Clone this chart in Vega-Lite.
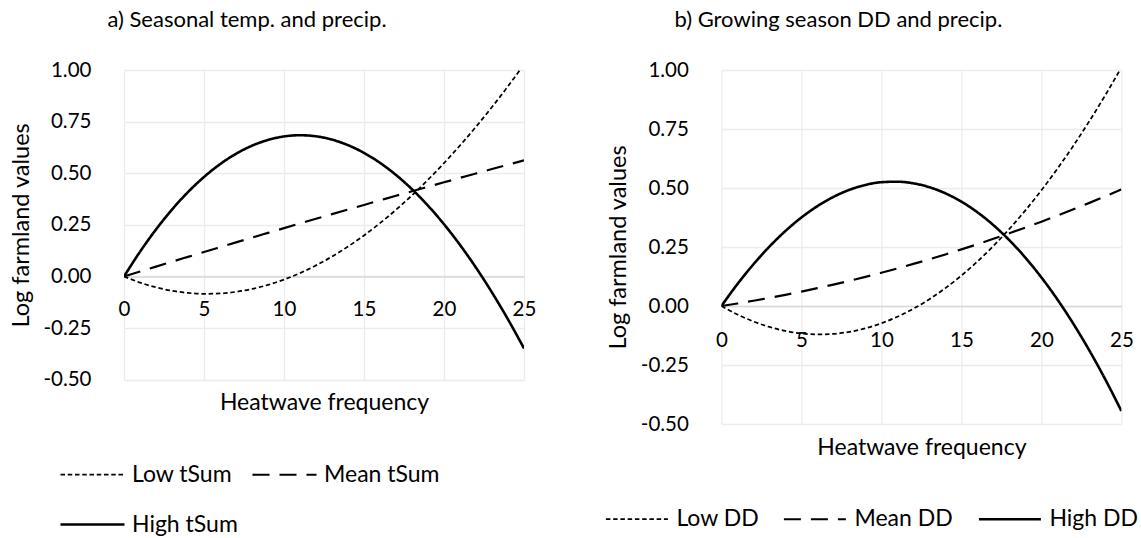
{
  "$schema": "https://vega.github.io/schema/vega-lite/v6.json",
  "background": "white",
  "padding": {"left": 8, "top": 9, "right": 0, "bottom": 0},
  "bounds": "flush",
  "spacing": 197.4,
  "resolve": {
    "scale": {"strokeDash": "independent", "strokeWidth": "independent"},
    "legend": {"strokeDash": "independent", "strokeWidth": "independent"}
  },
  "config": {
    "font": "Lato",
    "view": {"stroke": null},
    "axis": {"labelFont": "Lato", "titleFont": "Lato", "labelColor": "#000", "titleColor": "#000", "titleFontWeight": "normal", "ticks": false, "tickSize": 0, "gridColor": "#ececec", "gridWidth": 1.3},
    "legend": {"labelFont": "Lato", "labelColor": "#000"},
    "title": {"font": "Lato", "color": "#000", "fontWeight": "normal"}
  },
  "datasets": {
    "a": [
      {"s": "Low tSum", "x": 0, "v": 0}, {"s": "Low tSum", "x": 1, "v": -0.0295}, {"s": "Low tSum", "x": 2, "v": -0.0526}, {"s": "Low tSum", "x": 3, "v": -0.0693}, {"s": "Low tSum", "x": 4, "v": -0.0798}, {"s": "Low tSum", "x": 5, "v": -0.0841}, {"s": "Low tSum", "x": 6, "v": -0.0823}, {"s": "Low tSum", "x": 7, "v": -0.0744}, {"s": "Low tSum", "x": 8, "v": -0.0605}, {"s": "Low tSum", "x": 9, "v": -0.0407}, {"s": "Low tSum", "x": 10, "v": -0.015}, {"s": "Low tSum", "x": 11, "v": 0.0164}, {"s": "Low tSum", "x": 12, "v": 0.0536}, {"s": "Low tSum", "x": 13, "v": 0.0965}, {"s": "Low tSum", "x": 14, "v": 0.1449}, {"s": "Low tSum", "x": 15, "v": 0.1988}, {"s": "Low tSum", "x": 16, "v": 0.2582}, {"s": "Low tSum", "x": 17, "v": 0.323}, {"s": "Low tSum", "x": 18, "v": 0.3931}, {"s": "Low tSum", "x": 19, "v": 0.4684}, {"s": "Low tSum", "x": 20, "v": 0.5489}, {"s": "Low tSum", "x": 21, "v": 0.6345}, {"s": "Low tSum", "x": 22, "v": 0.7252}, {"s": "Low tSum", "x": 23, "v": 0.8208}, {"s": "Low tSum", "x": 24, "v": 0.9214}, {"s": "Low tSum", "x": 25, "v": 1.0268},
      {"s": "Mean tSum", "x": 0, "v": 0}, {"s": "Mean tSum", "x": 1, "v": 0.0239}, {"s": "Mean tSum", "x": 2, "v": 0.0478}, {"s": "Mean tSum", "x": 3, "v": 0.0715}, {"s": "Mean tSum", "x": 4, "v": 0.095}, {"s": "Mean tSum", "x": 5, "v": 0.1185}, {"s": "Mean tSum", "x": 6, "v": 0.1418}, {"s": "Mean tSum", "x": 7, "v": 0.1651}, {"s": "Mean tSum", "x": 8, "v": 0.1882}, {"s": "Mean tSum", "x": 9, "v": 0.2111}, {"s": "Mean tSum", "x": 10, "v": 0.234}, {"s": "Mean tSum", "x": 11, "v": 0.2567}, {"s": "Mean tSum", "x": 12, "v": 0.2794}, {"s": "Mean tSum", "x": 13, "v": 0.3019}, {"s": "Mean tSum", "x": 14, "v": 0.3242}, {"s": "Mean tSum", "x": 15, "v": 0.3465}, {"s": "Mean tSum", "x": 16, "v": 0.3686}, {"s": "Mean tSum", "x": 17, "v": 0.3907}, {"s": "Mean tSum", "x": 18, "v": 0.4126}, {"s": "Mean tSum", "x": 19, "v": 0.4343}, {"s": "Mean tSum", "x": 20, "v": 0.456}, {"s": "Mean tSum", "x": 21, "v": 0.4775}, {"s": "Mean tSum", "x": 22, "v": 0.499}, {"s": "Mean tSum", "x": 23, "v": 0.5203}, {"s": "Mean tSum", "x": 24, "v": 0.5414}, {"s": "Mean tSum", "x": 25, "v": 0.5625},
      {"s": "High tSum", "x": 0, "v": 0}, {"s": "High tSum", "x": 1, "v": 0.1197}, {"s": "High tSum", "x": 2, "v": 0.2277}, {"s": "High tSum", "x": 3, "v": 0.3241}, {"s": "High tSum", "x": 4, "v": 0.4088}, {"s": "High tSum", "x": 5, "v": 0.482}, {"s": "High tSum", "x": 6, "v": 0.5438}, {"s": "High tSum", "x": 7, "v": 0.5942}, {"s": "High tSum", "x": 8, "v": 0.6333}, {"s": "High tSum", "x": 9, "v": 0.6613}, {"s": "High tSum", "x": 10, "v": 0.6782}, {"s": "High tSum", "x": 11, "v": 0.684}, {"s": "High tSum", "x": 12, "v": 0.6788}, {"s": "High tSum", "x": 13, "v": 0.6628}, {"s": "High tSum", "x": 14, "v": 0.636}, {"s": "High tSum", "x": 15, "v": 0.5985}, {"s": "High tSum", "x": 16, "v": 0.5503}, {"s": "High tSum", "x": 17, "v": 0.4916}, {"s": "High tSum", "x": 18, "v": 0.4225}, {"s": "High tSum", "x": 19, "v": 0.3429}, {"s": "High tSum", "x": 20, "v": 0.253}, {"s": "High tSum", "x": 21, "v": 0.1529}, {"s": "High tSum", "x": 22, "v": 0.0426}, {"s": "High tSum", "x": 23, "v": -0.0777}, {"s": "High tSum", "x": 24, "v": -0.208}, {"s": "High tSum", "x": 25, "v": -0.3483}
    ],
    "b": [
      {"s": "Low DD", "x": 0, "v": 0}, {"s": "Low DD", "x": 1, "v": -0.036}, {"s": "Low DD", "x": 2, "v": -0.0656}, {"s": "Low DD", "x": 3, "v": -0.0888}, {"s": "Low DD", "x": 4, "v": -0.1057}, {"s": "Low DD", "x": 5, "v": -0.1162}, {"s": "Low DD", "x": 6, "v": -0.1204}, {"s": "Low DD", "x": 7, "v": -0.1181}, {"s": "Low DD", "x": 8, "v": -0.1095}, {"s": "Low DD", "x": 9, "v": -0.0946}, {"s": "Low DD", "x": 10, "v": -0.0732}, {"s": "Low DD", "x": 11, "v": -0.0455}, {"s": "Low DD", "x": 12, "v": -0.0115}, {"s": "Low DD", "x": 13, "v": 0.029}, {"s": "Low DD", "x": 14, "v": 0.0758}, {"s": "Low DD", "x": 15, "v": 0.129}, {"s": "Low DD", "x": 16, "v": 0.1885}, {"s": "Low DD", "x": 17, "v": 0.2544}, {"s": "Low DD", "x": 18, "v": 0.3267}, {"s": "Low DD", "x": 19, "v": 0.4053}, {"s": "Low DD", "x": 20, "v": 0.4903}, {"s": "Low DD", "x": 21, "v": 0.5817}, {"s": "Low DD", "x": 22, "v": 0.6795}, {"s": "Low DD", "x": 23, "v": 0.7836}, {"s": "Low DD", "x": 24, "v": 0.8941}, {"s": "Low DD", "x": 25, "v": 1.0109},
      {"s": "Mean DD", "x": 0, "v": 0}, {"s": "Mean DD", "x": 1, "v": 0.0107}, {"s": "Mean DD", "x": 2, "v": 0.0222}, {"s": "Mean DD", "x": 3, "v": 0.0344}, {"s": "Mean DD", "x": 4, "v": 0.0474}, {"s": "Mean DD", "x": 5, "v": 0.0611}, {"s": "Mean DD", "x": 6, "v": 0.0756}, {"s": "Mean DD", "x": 7, "v": 0.0908}, {"s": "Mean DD", "x": 8, "v": 0.1068}, {"s": "Mean DD", "x": 9, "v": 0.1235}, {"s": "Mean DD", "x": 10, "v": 0.141}, {"s": "Mean DD", "x": 11, "v": 0.1593}, {"s": "Mean DD", "x": 12, "v": 0.1783}, {"s": "Mean DD", "x": 13, "v": 0.198}, {"s": "Mean DD", "x": 14, "v": 0.2185}, {"s": "Mean DD", "x": 15, "v": 0.2398}, {"s": "Mean DD", "x": 16, "v": 0.2618}, {"s": "Mean DD", "x": 17, "v": 0.2846}, {"s": "Mean DD", "x": 18, "v": 0.3081}, {"s": "Mean DD", "x": 19, "v": 0.3324}, {"s": "Mean DD", "x": 20, "v": 0.3574}, {"s": "Mean DD", "x": 21, "v": 0.3832}, {"s": "Mean DD", "x": 22, "v": 0.4097}, {"s": "Mean DD", "x": 23, "v": 0.437}, {"s": "Mean DD", "x": 24, "v": 0.4651}, {"s": "Mean DD", "x": 25, "v": 0.4939},
      {"s": "High DD", "x": 0, "v": 0}, {"s": "High DD", "x": 1, "v": 0.0927}, {"s": "High DD", "x": 2, "v": 0.1766}, {"s": "High DD", "x": 3, "v": 0.2517}, {"s": "High DD", "x": 4, "v": 0.3178}, {"s": "High DD", "x": 5, "v": 0.375}, {"s": "High DD", "x": 6, "v": 0.4232}, {"s": "High DD", "x": 7, "v": 0.4622}, {"s": "High DD", "x": 8, "v": 0.4922}, {"s": "High DD", "x": 9, "v": 0.513}, {"s": "High DD", "x": 10, "v": 0.5246}, {"s": "High DD", "x": 11, "v": 0.5268}, {"s": "High DD", "x": 12, "v": 0.5198}, {"s": "High DD", "x": 13, "v": 0.5033}, {"s": "High DD", "x": 14, "v": 0.4775}, {"s": "High DD", "x": 15, "v": 0.4421}, {"s": "High DD", "x": 16, "v": 0.3972}, {"s": "High DD", "x": 17, "v": 0.3427}, {"s": "High DD", "x": 18, "v": 0.2785}, {"s": "High DD", "x": 19, "v": 0.2047}, {"s": "High DD", "x": 20, "v": 0.1211}, {"s": "High DD", "x": 21, "v": 0.0277}, {"s": "High DD", "x": 22, "v": -0.0756}, {"s": "High DD", "x": 23, "v": -0.1888}, {"s": "High DD", "x": 24, "v": -0.3119}, {"s": "High DD", "x": 25, "v": -0.4451}
    ]
  },
  "hconcat": [
    {
      "width": 400,
      "height": 309.7,
      "data": {"name": "a"},
      "title": {"text": "a) Seasonal temp. and precip.", "dx": -77, "offset": 11, "baseline": "alphabetic", "fontSize": 22, "anchor": "middle", "frame": "group"},
      "mark": {"type": "line", "color": "#000", "clip": true, "interpolate": "monotone"},
      "encoding": {
        "x": {"field": "x", "type": "quantitative", "scale": {"domain": [0, 25], "nice": false, "zero": false},
          "axis": {"values": [0, 5, 10, 15, 20, 25], "offset": -103.3, "domainColor": "#d9d9d9", "domainWidth": 1.5, "labelFontSize": 20.5, "labelPadding": 23, "labelFlush": false, "labelOverlap": false, "title": "Heatwave frequency", "titleFontSize": 23, "titleY": 133, "titleBaseline": "alphabetic"}},
        "y": {"field": "v", "type": "quantitative", "scale": {"domain": [-0.5, 1], "nice": false, "zero": false},
          "axis": {"values": [-0.5, -0.25, 0, 0.25, 0.5, 0.75, 1], "format": ".2f", "labelExpr": "replace(datum.label, '−', '-')", "domain": false, "labelFontSize": 20.5, "labelPadding": 33, "title": "Log farmland values", "titleFontSize": 23.5, "titleX": -103, "titleY": 154.85, "titleBaseline": "middle", "titleAngle": -90}},
        "strokeDash": {"field": "s", "type": "nominal", "scale": {"domain": ["Low tSum", "Mean tSum", "High tSum"], "range": [[4.5, 2.75], [17, 10], [1, 0]]},
          "legend": {"title": null, "orient": "none", "direction": "horizontal", "legendX": -65, "legendY": 371, "columns": 2, "symbolType": "stroke", "symbolSize": 4096, "symbolStrokeColor": "#000", "labelFontSize": 23, "labelOffset": 6, "columnPadding": 10, "rowPadding": 4, "labelLimit": 300}},
        "strokeWidth": {"field": "s", "type": "nominal", "scale": {"domain": ["Low tSum", "Mean tSum", "High tSum"], "range": [1.75, 2.6, 3.75]},
          "legend": {"title": null, "orient": "none", "direction": "horizontal", "legendX": -65, "legendY": 371, "columns": 2, "symbolType": "stroke", "symbolSize": 4096, "symbolStrokeColor": "#000", "labelFontSize": 23, "labelOffset": 6, "columnPadding": 10, "rowPadding": 4, "labelLimit": 300}}
      }
    },
    {
      "width": 400,
      "height": 354,
      "data": {"name": "b"},
      "title": {"text": "b) Growing season DD and precip.", "dx": -83, "offset": 11, "baseline": "alphabetic", "fontSize": 22, "anchor": "middle", "frame": "group"},
      "mark": {"type": "line", "color": "#000", "clip": true, "interpolate": "monotone"},
      "encoding": {
        "x": {"field": "x", "type": "quantitative", "scale": {"domain": [0, 25], "nice": false, "zero": false},
          "axis": {"values": [0, 5, 10, 15, 20, 25], "offset": -118, "domainColor": "#d9d9d9", "domainWidth": 1.5, "labelFontSize": 20.5, "labelPadding": 24, "labelFlush": false, "labelOverlap": false, "title": "Heatwave frequency", "titleFontSize": 23, "titleY": 148, "titleBaseline": "alphabetic"}},
        "y": {"field": "v", "type": "quantitative", "scale": {"domain": [-0.5, 1], "nice": false, "zero": false},
          "axis": {"values": [-0.5, -0.25, 0, 0.25, 0.5, 0.75, 1], "format": ".2f", "labelExpr": "replace(datum.label, '−', '-')", "domain": false, "labelFontSize": 20.5, "labelPadding": 33, "title": "Log farmland values", "titleFontSize": 23.5, "titleX": -103, "titleY": 177, "titleBaseline": "middle", "titleAngle": -90}},
        "strokeDash": {"field": "s", "type": "nominal", "scale": {"domain": ["Low DD", "Mean DD", "High DD"], "range": [[4.5, 2.75], [17, 10], [1, 0]]},
          "legend": {"title": null, "orient": "none", "direction": "horizontal", "legendX": -117, "legendY": 416.5, "columns": 3, "symbolType": "stroke", "symbolSize": 3844, "symbolStrokeColor": "#000", "labelFontSize": 23, "labelOffset": 7, "columnPadding": 20, "labelLimit": 300}},
        "strokeWidth": {"field": "s", "type": "nominal", "scale": {"domain": ["Low DD", "Mean DD", "High DD"], "range": [1.75, 2.6, 3.75]},
          "legend": {"title": null, "orient": "none", "direction": "horizontal", "legendX": -117, "legendY": 416.5, "columns": 3, "symbolType": "stroke", "symbolSize": 3844, "symbolStrokeColor": "#000", "labelFontSize": 23, "labelOffset": 7, "columnPadding": 20, "labelLimit": 300}}
      }
    }
  ]
}
